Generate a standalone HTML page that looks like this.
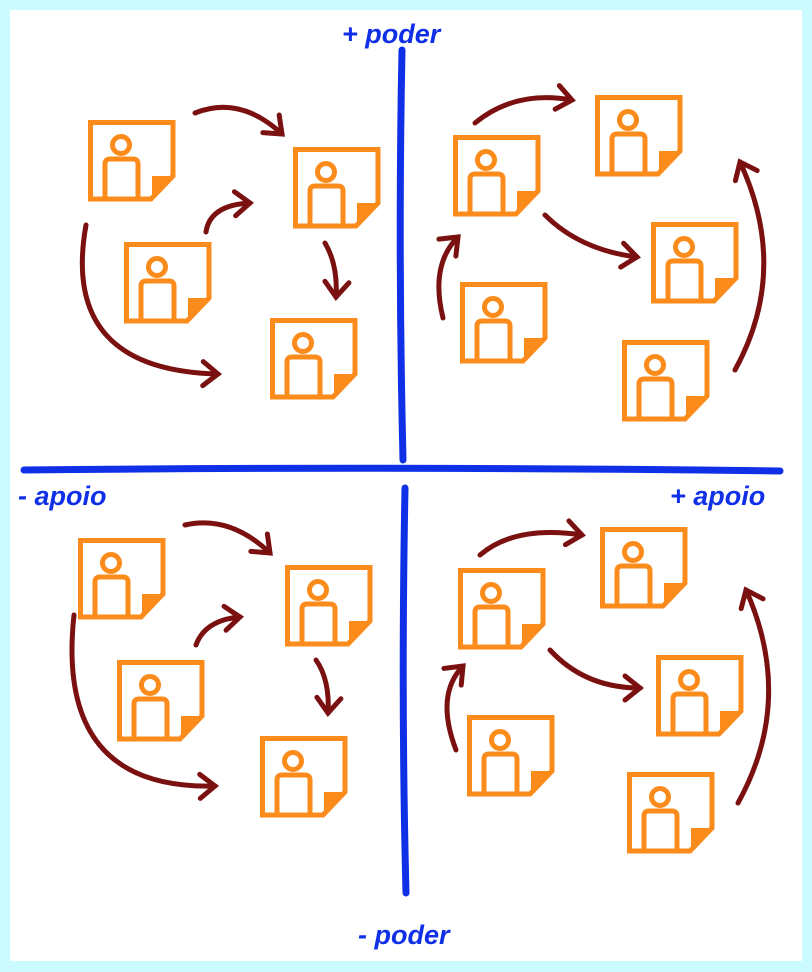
<!DOCTYPE html>
<html><head><meta charset="utf-8"><style>
html,body{margin:0;padding:0;background:#ccfbff;}
svg{display:block;}
text{font-family:"Liberation Sans",sans-serif;font-weight:bold;font-style:italic;fill:#1030e8;font-size:27px;}
</style></head><body>
<svg width="812" height="972" viewBox="0 0 812 972" xmlns="http://www.w3.org/2000/svg">
<defs>
<g id="n">
<path d="M2.5 2.5 H85 V56 L63 79 H2.5 Z" fill="#fff" stroke="#fb8c1c" stroke-width="5" stroke-linejoin="miter"/>
<path d="M64 56 H87 L64 81 Z" fill="#fb8c1c"/>
<circle cx="33" cy="25" r="8.5" fill="none" stroke="#fb8c1c" stroke-width="5"/>
<path d="M17 79 V44 Q17 39 22 39 H45 Q50 39 50 44 V79" fill="none" stroke="#fb8c1c" stroke-width="5"/>
</g>
<marker id="a" markerWidth="6" markerHeight="6" refX="4" refY="3" orient="auto" markerUnits="strokeWidth">
<path d="M1 0.6 L4 3 L1 5.4" fill="none" stroke="#7a1010" stroke-width="1" stroke-linecap="round"/>
</marker>
</defs>
<rect x="10" y="10" width="792" height="951" fill="#fff"/>
<path d="M402 50 Q398 250 403 460" stroke="#1030e8" stroke-width="7" fill="none" stroke-linecap="round"/>
<path d="M405 488 Q401 700 406 893" stroke="#1030e8" stroke-width="7" fill="none" stroke-linecap="round"/>
<path d="M24 470 Q400 466 780 471" stroke="#1030e8" stroke-width="7" fill="none" stroke-linecap="round"/>
<text x="342" y="43">+ poder</text>
<text x="18" y="505">- apoio</text>
<text x="670" y="505">+ apoio</text>
<text x="358" y="944">- poder</text>
<use href="#n" x="88" y="120"/><use href="#n" x="293" y="147"/><use href="#n" x="124" y="242"/><use href="#n" x="270" y="318"/>
<use href="#n" x="453" y="135"/><use href="#n" x="595" y="95"/><use href="#n" x="651" y="222"/><use href="#n" x="460" y="282"/><use href="#n" x="622" y="340"/>
<use href="#n" x="78" y="538"/><use href="#n" x="285" y="565"/><use href="#n" x="117" y="660"/><use href="#n" x="260" y="736"/>
<use href="#n" x="458" y="568"/><use href="#n" x="600" y="527"/><use href="#n" x="656" y="655"/><use href="#n" x="467" y="715"/><use href="#n" x="627" y="772"/>
<g stroke="#7a1010" stroke-width="5" fill="none" stroke-linecap="round" marker-end="url(#a)">
<path d="M195 113 Q240 95 282 134"/>
<path d="M206 232 Q210 205 250 203"/>
<path d="M325 243 Q338 265 336 297"/>
<path d="M86 225 Q60 370 218 374"/>
<path d="M475 123 Q515 90 572 100"/>
<path d="M545 215 Q580 250 637 257"/>
<path d="M443 318 Q430 265 458 237"/>
<path d="M735 370 Q790 270 740 162"/>
<path d="M185 525 Q230 515 270 553"/>
<path d="M196 645 Q205 620 240 617"/>
<path d="M316 660 Q330 680 328 713"/>
<path d="M74 615 Q55 790 215 786"/>
<path d="M480 555 Q515 525 582 535"/>
<path d="M550 650 Q585 688 640 688"/>
<path d="M456 750 Q435 695 463 666"/>
<path d="M738 803 Q795 700 746 590"/>
</g>
</svg>
</body></html>
